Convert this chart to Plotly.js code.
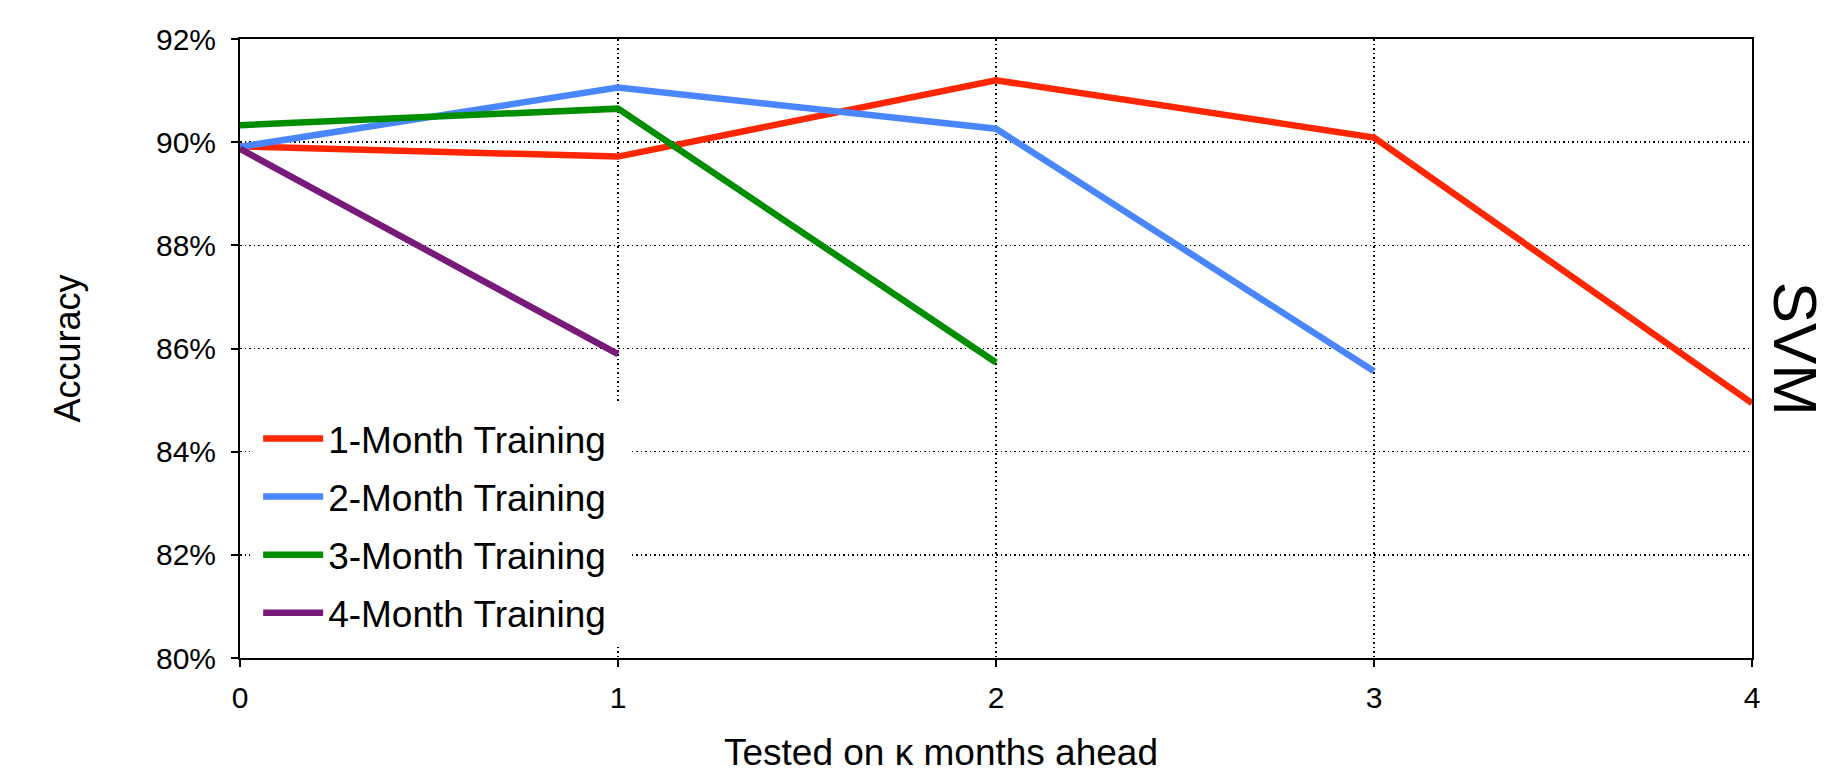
<!DOCTYPE html>
<html>
<head>
<meta charset="utf-8">
<script src="https://cdn.plot.ly/plotly-3.0.1.min.js"></script>
<style>
  html, body { margin: 0; padding: 0; background: #ffffff; }
  #chart { width: 1833px; height: 775px; }
</style>
</head>
<body>
<div id="chart"></div>
<script>
// Tested on k months ahead
const monthsAhead = [0, 1, 2, 3, 4];

// Accuracy (%) per training window
const oneMonth   = [89.92, 89.72, 91.20, 90.09, 84.94];
const twoMonth   = [89.91, 91.06, 90.26, 85.56];
const threeMonth = [90.33, 90.65, 85.73];
const fourMonth  = [89.87, 85.89];

const seriesNames = ['1-Month Training', '2-Month Training', '3-Month Training', '4-Month Training'];
const seriesColors = ['#FF2600', '#4A86FF', '#008E00', '#781A79'];

const yTicks = [80, 82, 84, 86, 88, 90, 92];
const xTicks = [0, 1, 2, 3, 4];

const FONT = 'Liberation Sans, Arial, Helvetica, sans-serif';

const allSeries = [oneMonth, twoMonth, threeMonth, fourMonth];
const traces = allSeries.map((vals, i) => ({
  type: 'scatter',
  mode: 'lines',
  x: monthsAhead.slice(0, vals.length),
  y: vals,
  name: seriesNames[i],
  legendgroup: 'g' + i,
  line: { color: seriesColors[i], width: 6.5 },
  hoverinfo: 'x+y+name'
}));

const layout = {
  width: 1833,
  height: 775,
  margin: { l: 240, r: 81, t: 39, b: 117 },
  paper_bgcolor: '#ffffff',
  plot_bgcolor: '#ffffff',
  font: { family: FONT, color: '#000000', size: 29 },
  showlegend: true,
  legend: {
    x: 0.012, y: 0.404,
    xanchor: 'left', yanchor: 'top',
    bgcolor: '#ffffff',
    borderwidth: 0,
    font: { family: FONT, size: 37, color: '#000000' },
    tracegroupgap: 7,
    itemwidth: 60
  },
  shapes: [
    {
      // white backing of the legend box, hiding the dotted grid behind it
      type: 'rect', xref: 'paper', yref: 'paper',
      x0: 0.0066, x1: 0.259, y0: 0.018, y1: 0.412,
      fillcolor: '#ffffff', line: { width: 0 }, layer: 'above'
    }
  ],
  xaxis: {
    range: [0, 4],
    tickvals: xTicks,
    ticktext: xTicks.map(String),
    showgrid: true,
    gridcolor: '#000000',
    gridwidth: 1.5,
    griddash: '1.5px,3px',
    zeroline: false,
    showline: true,
    linecolor: '#000000',
    linewidth: 2,
    mirror: true,
    ticks: 'outside',
    ticklen: 7,
    tickwidth: 2,
    tickcolor: '#000000',
    ticklabelstandoff: 5,
    tickfont: { family: FONT, size: 30, color: '#000000' },
    fixedrange: true
  },
  yaxis: {
    range: [80, 92],
    tickvals: yTicks,
    ticktext: yTicks.map(v => v + '%'),
    showgrid: true,
    gridcolor: '#000000',
    gridwidth: 1.5,
    griddash: '1.5px,3px',
    zeroline: false,
    showline: true,
    linecolor: '#000000',
    linewidth: 2,
    mirror: true,
    ticks: 'outside',
    ticklen: 7,
    tickwidth: 2,
    tickcolor: '#000000',
    ticklabelstandoff: 9,
    tickfont: { family: FONT, size: 30, color: '#000000' },
    title: { text: 'Accuracy', font: { family: FONT, size: 36, color: '#000000' }, standoff: 64 },
    fixedrange: true
  },
  annotations: [
    {
      text: 'Tested on κ months ahead',
      xref: 'paper', yref: 'paper',
      x: 0.4636, y: -0.152,
      xanchor: 'center', yanchor: 'middle',
      showarrow: false,
      font: { family: FONT, size: 37, color: '#000000' }
    },
    {
      text: 'SVM',
      xref: 'paper', yref: 'paper',
      x: 1.029, y: 0.5,
      xanchor: 'center', yanchor: 'middle',
      textangle: 90,
      showarrow: false,
      font: { family: FONT, size: 62, color: '#000000' }
    }
  ]
};

Plotly.newPlot('chart', traces, layout, { displayModeBar: false, staticPlot: true });
</script>
</body>
</html>
